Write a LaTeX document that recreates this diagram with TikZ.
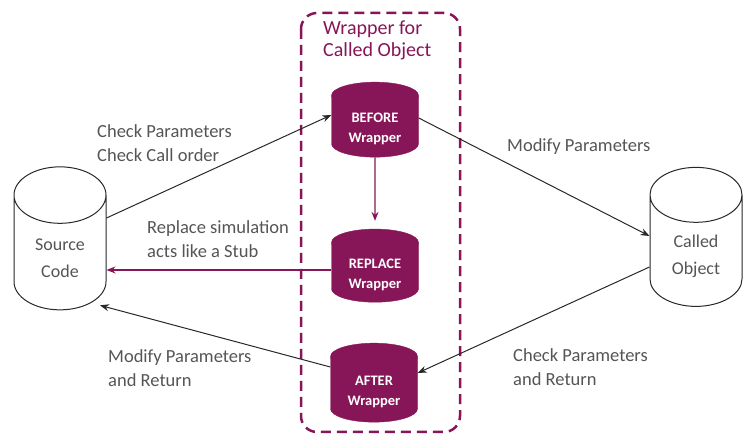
\documentclass[tikz,border=0pt]{standalone}
\usepackage{fontspec}
\setmainfont{Carlito}
\usetikzlibrary{shapes.geometric,arrows.meta}
\definecolor{wrapcol}{RGB}{134,22,87}
\definecolor{txtgray}{RGB}{85,85,85}
\definecolor{linegray}{RGB}{40,40,40}

\begin{document}
\begin{tikzpicture}
[x=1pt,y=-1pt,
every node/.style={align=left,text=txtgray},
note/.style={anchor=west,inner sep=0pt,font=\fontsize{18.5}{24.5}\selectfont},
store/.style={cylinder,shape border rotate=90,draw=linegray,line width=1pt,fill=white,
	minimum width=92pt,aspect=1,align=center,font=\fontsize{18}{27}\selectfont},
wrap/.style={cylinder,shape border rotate=90,draw=wrapcol,fill=wrapcol,
	minimum width=87pt,aspect=0.45,align=center,
	text=white,font=\fontsize{14.5}{19.5}\selectfont\bfseries},
flow/.style={-{Stealth[length=9pt,width=7pt]},draw=linegray,line width=1pt},
back/.style={-{Stealth[length=9pt,width=7pt]},draw=wrapcol,line width=1.2pt}]

\useasboundingbox (0,0) rectangle (745,435);

% wrapper box
\draw[wrapcol,line width=2.5pt,dash pattern=on 10pt off 6pt,rounded corners=16pt]
	(301,13) rectangle (460,432);
\node[anchor=west,inner sep=0pt,text=wrapcol,font=\fontsize{20}{22}\selectfont] (title) at (323,40)
	{Wrapper for\\Called Object};

% stores
\node[store,minimum height=143pt] (src) at (60,258) {Source\\Code};
\node[store,minimum height=139pt] (obj) at (696,256) {Called\\Object};

% wrappers
\node[wrap,minimum height=75pt] (before) at (375,129) {BEFORE\\Wrapper};
\node[wrap,minimum height=72pt] (replace) at (375,275) {REPLACE\\Wrapper};
\node[wrap,minimum height=79pt] (after) at (374,392) {AFTER\\Wrapper};

% connectors
\draw[flow] ([yshift=40pt]src.east) -- ([yshift=14pt]before.west);
\draw[flow] ([yshift=11pt]before.east) -- ([yshift=20pt]obj.west);
\draw[back,shorten >=8pt] (before.south) -- (replace.north);
\draw[back] ([yshift=5pt]replace.west) -- ([yshift=5pt]replace.west -| src.east);
\draw[flow] ([yshift=-11pt]obj.west) -- ([yshift=19pt]after.east);
\draw[flow] ([yshift=25pt]after.west) -- ([xshift=40pt,yshift=5pt]src.south);

% labels
\node[note] (lbl1) at (97,143) {Check Parameters\\Check Call order};
\node[note] (lbl2) at (147,239) {Replace simulation\\acts like a Stub};
\node[note] (lbl3) at (507,147) {Modify Parameters};
\node[note] (lbl4) at (108,368) {Modify Parameters\\and Return};
\node[note] (lbl5) at (513,367) {Check Parameters\\and Return};
\end{tikzpicture}
\end{document}
